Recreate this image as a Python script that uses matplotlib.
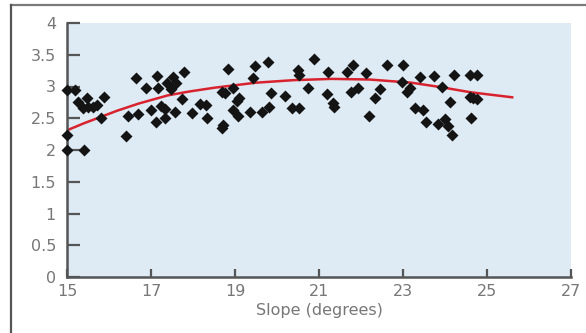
"""
Import Packages
"""
from matplotlib import pyplot as plt
from matplotlib.lines import Line2D

"""
Data read off the chart
"""
# Scatter points: slope (degrees) and measured value
slope = [15.0, 15.2, 15.0, 15.0, 15.4, 15.26, 15.48, 15.38, 15.5, 15.62,
         15.71, 15.88, 15.81, 16.4, 16.45, 16.69, 16.64, 16.88, 17.14, 17.17,
         17.38, 17.52, 17.48, 17.0, 17.24, 17.33, 17.12, 17.33, 17.57, 17.79,
         17.6, 17.74, 17.98, 18.17, 18.31, 18.33, 18.69, 18.76, 18.71, 18.69,
         18.83, 18.95, 19.1, 19.05, 18.95, 19.07, 19.36, 19.64, 19.81, 19.48,
         19.43, 19.79, 19.86, 20.19, 20.36, 20.52, 20.5, 20.52, 20.88, 20.74,
         21.21, 21.19, 21.33, 21.36, 21.67, 21.81, 21.76, 21.93, 22.12, 22.19,
         22.33, 22.45, 22.62, 23.0, 22.98, 23.1, 23.17, 23.4, 23.74, 23.93,
         24.21, 24.12, 23.29, 23.48, 23.55, 23.83, 24.0, 24.07, 24.17, 24.6,
         24.76, 24.6, 24.67, 24.76, 24.62]
value = [2.95, 2.94, 2.24, 2.0, 2.0, 2.76, 2.82, 2.66, 2.68, 2.68,
         2.71, 2.83, 2.50, 2.22, 2.54, 2.57, 3.13, 2.98, 3.17, 2.98,
         3.05, 3.15, 2.96, 2.63, 2.69, 2.64, 2.44, 2.50, 2.60, 3.23,
         3.06, 2.80, 2.58, 2.72, 2.71, 2.50, 2.91, 2.89, 2.39, 2.34,
         3.28, 2.97, 2.82, 2.77, 2.63, 2.54, 2.60, 2.60, 2.68, 3.32,
         3.13, 3.39, 2.90, 2.85, 2.66, 2.66, 3.26, 3.18, 3.43, 2.97,
         3.23, 2.88, 2.74, 2.67, 3.23, 3.34, 2.91, 2.98, 3.22, 2.54,
         2.82, 2.96, 3.34, 3.34, 3.07, 2.91, 2.98, 3.15, 3.17, 2.99,
         3.18, 2.76, 2.66, 2.63, 2.44, 2.41, 2.49, 2.38, 2.24, 3.18,
         3.18, 2.83, 2.82, 2.80, 2.50]

# Trend curve points
trend_x = [15.0, 15.4, 15.8, 16.2, 16.7, 17.4, 17.9, 18.5, 19.5, 20.4,
           21.3, 22.2, 23.2, 23.9, 24.6, 25.6]
trend_y = [2.31, 2.42, 2.52, 2.62, 2.73, 2.86, 2.92, 2.98, 3.06, 3.10,
           3.12, 3.11, 3.06, 2.99, 2.91, 2.83]

x_ticks = [15, 17, 19, 21, 23, 25, 27]
y_ticks = [0, 0.5, 1, 1.5, 2, 2.5, 3, 3.5, 4]
y_tick_labels = ["0", "0.5", "1", "1.5", "2", "2.5", "3", "3.5", "4"]

"""
Plot
"""
fig = plt.figure(figsize=(5.86, 3.33), dpi=100)
ax = fig.add_axes([67 / 586, 56 / 333, 504 / 586, 254 / 333])
ax.set_facecolor("#deebf5")

# outer frame lines (top and left only)
fig.add_artist(Line2D([11 / 586, 1.0], [1 - 5 / 333, 1 - 5 / 333], color="#7a7a7a", lw=1.6))
fig.add_artist(Line2D([11 / 586, 11 / 586], [0.0, 1 - 5 / 333], color="#555555", lw=1.6))

ax.plot(trend_x, trend_y, color="#d8232f", lw=1.8, zorder=2)
ax.plot(slope, value, "D", color="#141414", ms=6.3, mec="none", zorder=3, clip_on=False)

ax.set_xlim(15, 27)
ax.set_ylim(0, 4)
ax.set_xticks(x_ticks)
ax.set_yticks(y_ticks)
ax.set_yticklabels(y_tick_labels)

for side in ["top", "right"]:
    ax.spines[side].set_visible(False)
for side in ["left", "bottom"]:
    ax.spines[side].set_color("#555555")
    ax.spines[side].set_linewidth(1.8)

ax.tick_params(axis="y", direction="in", length=9, width=1.6, color="#555555",
               labelcolor="#777777", labelsize=11.5, pad=8)
ax.tick_params(axis="x", direction="in", length=6, width=1.6, color="#555555",
               labelcolor="#777777", labelsize=11.5, pad=5)

ax.set_xlabel("Slope (degrees)", color="#777777", fontsize=11.5, labelpad=3)

plt.savefig("out.png", dpi=100)
